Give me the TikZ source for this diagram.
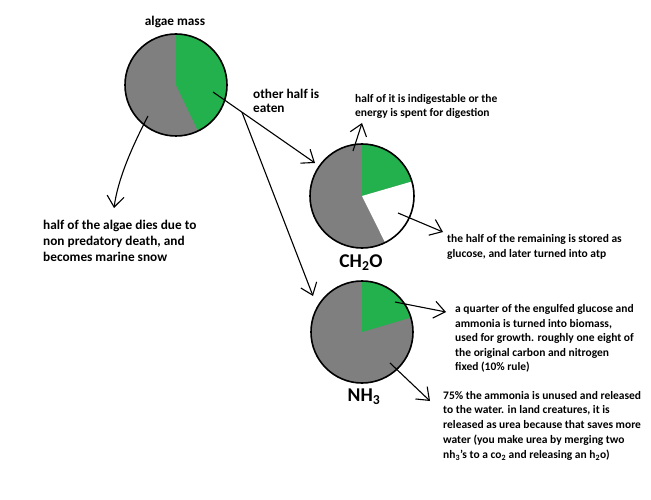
\documentclass[tikz,border=0pt]{standalone}
\usepackage{fontspec}
\setmainfont{Carlito}
\usetikzlibrary{arrows.meta, calc}
\definecolor{algaegreen}{RGB}{34,177,76}
\definecolor{algaegray}{RGB}{127,127,127}
\tikzset{
  pie/.style={circle, draw, line width=1.6pt, minimum size=102pt, inner sep=0pt},
  note/.style={anchor=base west, align=left, inner sep=0pt,
    font=\bfseries\fontsize{11.5}{14.4}\selectfont},
  bignote/.style={anchor=base west, align=left, inner sep=0pt,
    font=\bfseries\fontsize{13.3}{16.3}\selectfont},
  formula/.style={anchor=base, inner sep=0pt, font=\bfseries\fontsize{19.5}{22}\selectfont},
  arr/.style={-{Straight Barb[length=11pt,width=17pt]}, line width=1.1pt},
}

\begin{document}
\begin{tikzpicture}[x=1pt, y=-1pt]
  \useasboundingbox (0,0) rectangle (651,500);

  % Pie fills
  \fill[algaegray] (176,85) circle[radius=51];
  \fill[algaegreen] (176,85) -- ++(-90:51) arc[start angle=-90, end angle=64.4, radius=51] -- cycle;
  \fill[algaegray] (362,196) circle[radius=52];
  \fill[algaegreen] (362,196) -- ++(-90:52) arc[start angle=-90, end angle=-16.2, radius=52] -- cycle;
  \fill[white] (362,196) -- ++(-16.2:52) arc[start angle=-16.2, end angle=63.6, radius=52] -- cycle;
  \fill[algaegray] (362,332) circle[radius=51];
  \fill[algaegreen] (362,332) -- ++(-90:51) arc[start angle=-90, end angle=-16.4, radius=51] -- cycle;

  % Pie outlines
  \node[pie] (algae) at (176,85) {};
  \node[pie, minimum size=104pt] (carbs) at (362,196) {};
  \node[pie] (ammonia) at (362,332) {};

  % Labels (base = last line)
  \node[bignote, anchor=base] (mass) at (175,26) {algae mass};
  \node[bignote, font=\bfseries\fontsize{13.3}{14}\selectfont] (eaten) at (253,113) {other half is\\eaten};
  \node[bignote] (snow) at (43,261.6) {half of the algae dies due to\\non predatory death, and\\becomes marine snow};
  \node[note] (waste) at (355,117) {half of it is indigestable or the\\energy is spent for digestion};
  \node[note] (glucose) at (447,257) {the half of the remaining is stored as\\glucose, and later turned into atp};
  \node[note] (biomass) at (455,370.5) {a quarter of the engulfed glucose and\\ammonia is turned into biomass,\\used for growth. roughly one eight of\\the original carbon and nitrogen\\fixed (10\% rule)};
  \node[note, font=\bfseries\fontsize{11.5}{14.9}\selectfont] (urea) at (443,458.6) {75\% the ammonia is unused and released\\to the water. in land creatures, it is\\released as urea because that saves more\\water (you make urea by merging two\\nh\textsubscript{3}'s to a co\textsubscript{2} and releasing an h\textsubscript{2}o)};
  \node[formula] (ch2o) at (361,267) {CH\textsubscript{2}O};
  \node[formula] (nh3) at (364,401) {NH\textsubscript{3}};

  % Arrow ends
  \coordinate (algaedead) at (148,116);
  \coordinate (algaeeat) at (213,92);
  \coordinate (snowtip) at (114,208);
  \coordinate (carbstip) at (315,163);
  \coordinate (ammoniatip) at (313,296);
  \coordinate (branch) at ($(algaeeat)!0.284!(carbstip)$);
  \coordinate (carbsloss) at (353,151);
  \coordinate (losstip) at (362,123);
  \coordinate (carbsstore) at (398,213);
  \coordinate (storetip) at (443,232);
  \coordinate (ammoniagrow) at (395,302);
  \coordinate (growtip) at (446,312);
  \coordinate (ammoniafree) at (390,363);
  \coordinate (freetip) at (430,401);

  % Connections
  \draw[arr] (algaedead) .. controls (133,145) and (118,178) .. (snowtip);
  \draw[arr] (algaeeat) -- (carbstip);
  \draw[arr] (branch) -- (ammoniatip);
  \draw[arr] (carbsloss) -- (losstip);
  \draw[arr] (carbsstore) -- (storetip);
  \draw[arr] (ammoniagrow) -- (growtip);
  \draw[arr] (ammoniafree) -- (freetip);
\end{tikzpicture}
\end{document}
